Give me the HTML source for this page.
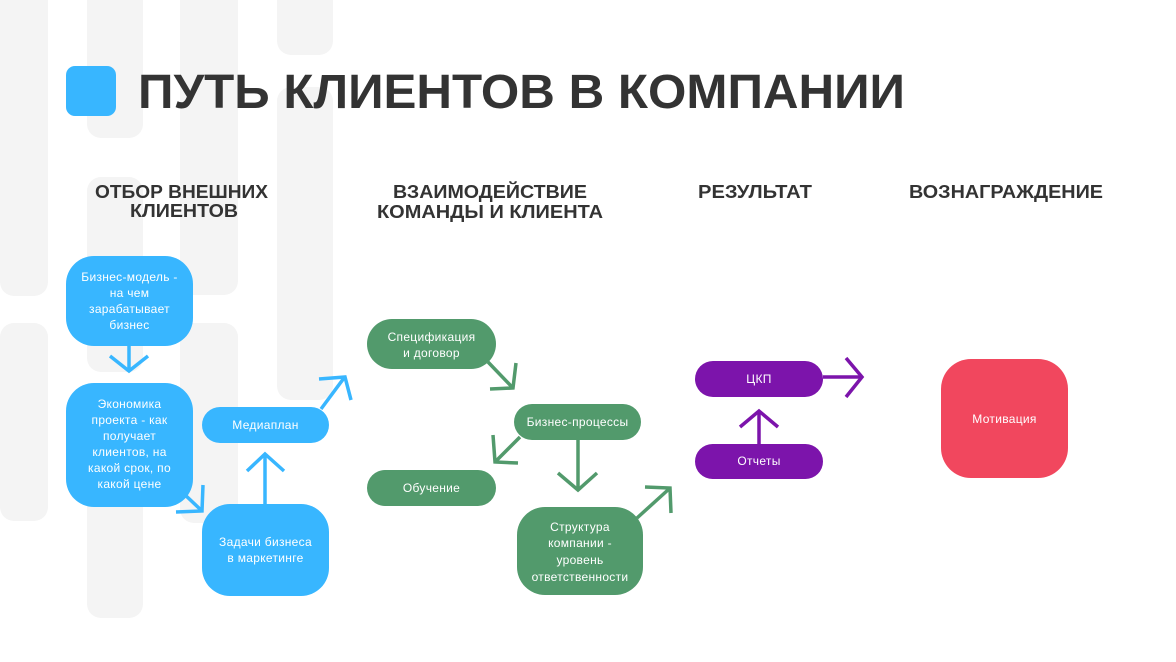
<!DOCTYPE html>
<html>
<head>
<meta charset="utf-8">
<style>
  html,body{margin:0;padding:0;background:#fff;}
  svg{display:block;}
  .t{font-family:"Liberation Sans","Noto Sans CJK SC",sans-serif;}
</style>
</head>
<body>
<svg width="1176" height="662" viewBox="0 0 1176 662" xmlns="http://www.w3.org/2000/svg">
  <rect x="0" y="0" width="1176" height="662" fill="#ffffff"/>
  <!-- background stripes -->
  <g fill="#f4f4f4">
    <rect x="0" y="-30" width="48" height="326" rx="14"/>
    <rect x="0" y="323" width="48" height="198" rx="14"/>
    <rect x="87" y="-30" width="56" height="168" rx="14"/>
    <rect x="87" y="177" width="56" height="195" rx="14"/>
    <rect x="87" y="400" width="56" height="218" rx="14"/>
    <rect x="180" y="-30" width="58" height="325" rx="14"/>
    <rect x="180" y="323" width="58" height="200" rx="14"/>
    <rect x="277" y="-30" width="56" height="85" rx="14"/>
    <rect x="277" y="87" width="56" height="313" rx="14"/>
  </g>

  <!-- title -->
  <rect x="66" y="66" width="50" height="50" rx="9" fill="#38b6ff"/>
  <text class="t" x="138" y="108" font-size="48" font-weight="bold" fill="#333333" textLength="767" lengthAdjust="spacingAndGlyphs">ПУТЬ КЛИЕНТОВ В КОМПАНИИ</text>

  <!-- column headers -->
  <g class="t" font-size="18" font-weight="bold" fill="#333333">
    <text x="95" y="198" textLength="173" lengthAdjust="spacingAndGlyphs">ОТБОР ВНЕШНИХ</text>
    <text x="130" y="217" textLength="108" lengthAdjust="spacingAndGlyphs">КЛИЕНТОВ</text>
    <text x="393" y="198" textLength="194" lengthAdjust="spacingAndGlyphs">ВЗАИМОДЕЙСТВИЕ</text>
    <text x="377" y="218" textLength="226" lengthAdjust="spacingAndGlyphs">КОМАНДЫ И КЛИЕНТА</text>
    <text x="698" y="198" textLength="114" lengthAdjust="spacingAndGlyphs">РЕЗУЛЬТАТ</text>
    <text x="909" y="198" textLength="194" lengthAdjust="spacingAndGlyphs">ВОЗНАГРАЖДЕНИЕ</text>
  </g>

  <!-- blue nodes -->
  <g fill="#38b6ff">
    <rect x="66" y="256" width="127" height="90" rx="28"/>
    <rect x="66" y="383" width="127" height="124" rx="28"/>
    <rect x="202" y="407" width="127" height="36" rx="18"/>
    <rect x="202" y="504" width="127" height="92" rx="28"/>
  </g>
  <!-- green nodes -->
  <g fill="#529a6c">
    <rect x="367" y="319" width="129" height="50" rx="25"/>
    <rect x="514" y="404" width="127" height="36" rx="18"/>
    <rect x="367" y="470" width="129" height="36" rx="18"/>
    <rect x="517" y="507" width="126" height="88" rx="28"/>
  </g>
  <!-- purple nodes -->
  <g fill="#7c14ab">
    <rect x="695" y="361" width="128" height="36" rx="18"/>
    <rect x="695" y="444" width="128" height="35" rx="17.5"/>
  </g>
  <!-- red node -->
  <rect x="941" y="359" width="127" height="119" rx="30" fill="#f1475e"/>

  <!-- node texts -->
  <g class="t" font-size="12" fill="#ffffff" text-anchor="middle" letter-spacing="0.3">
    <text x="129.5" y="281">Бизнес-модель -</text>
    <text x="129.5" y="297">на чем</text>
    <text x="129.5" y="313">зарабатывает</text>
    <text x="129.5" y="329">бизнес</text>

    <text x="129.5" y="408">Экономика</text>
    <text x="129.5" y="424">проекта - как</text>
    <text x="129.5" y="440">получает</text>
    <text x="129.5" y="456">клиентов, на</text>
    <text x="129.5" y="472">какой срок, по</text>
    <text x="129.5" y="488">какой цене</text>

    <text x="265.5" y="429">Медиаплан</text>

    <text x="265.5" y="546">Задачи бизнеса</text>
    <text x="265.5" y="562">в маркетинге</text>

    <text x="431.5" y="341">Спецификация</text>
    <text x="431.5" y="357">и договор</text>

    <text x="577.5" y="426">Бизнес-процессы</text>

    <text x="431.5" y="492">Обучение</text>

    <text x="580" y="531">Структура</text>
    <text x="580" y="547">компании -</text>
    <text x="580" y="564">уровень</text>
    <text x="580" y="581">ответственности</text>

    <text x="759" y="383">ЦКП</text>
    <text x="759" y="465">Отчеты</text>

    <text x="1004.5" y="423">Мотивация</text>
  </g>

  <!-- arrows -->
  <g fill="none" stroke-width="3.5" stroke-linecap="butt" stroke-linejoin="miter">
    <g stroke="#38b6ff">
      <line x1="129" y1="346" x2="129" y2="370"/>
      <polyline points="110,356 129,371 148,356"/>
      <line x1="183" y1="493" x2="201" y2="510"/>
      <polyline points="203,485 202,511 176,512"/>
      <line x1="265" y1="504" x2="265" y2="455"/>
      <polyline points="247,471 265,454 284,471"/>
      <line x1="321" y1="409" x2="344" y2="378"/>
      <polyline points="319,379 345,377 351,400"/>
    </g>
    <g stroke="#529a6c">
      <line x1="488" y1="362" x2="512" y2="387"/>
      <polyline points="516,363 513,388 490,389"/>
      <line x1="578" y1="440" x2="578" y2="489"/>
      <polyline points="558,473 578,490 597,473"/>
      <line x1="520" y1="437" x2="496" y2="461"/>
      <polyline points="493,435 495,462 518,463"/>
      <line x1="637" y1="518" x2="669" y2="489"/>
      <polyline points="645,487 670,488 671,513"/>
    </g>
    <g stroke="#7c14ab">
      <line x1="823" y1="377" x2="861" y2="377"/>
      <polyline points="846,358 862,377 846,397"/>
      <line x1="759" y1="444" x2="759" y2="412"/>
      <polyline points="740,427 759,411 778,427"/>
    </g>
  </g>
</svg>
</body>
</html>
